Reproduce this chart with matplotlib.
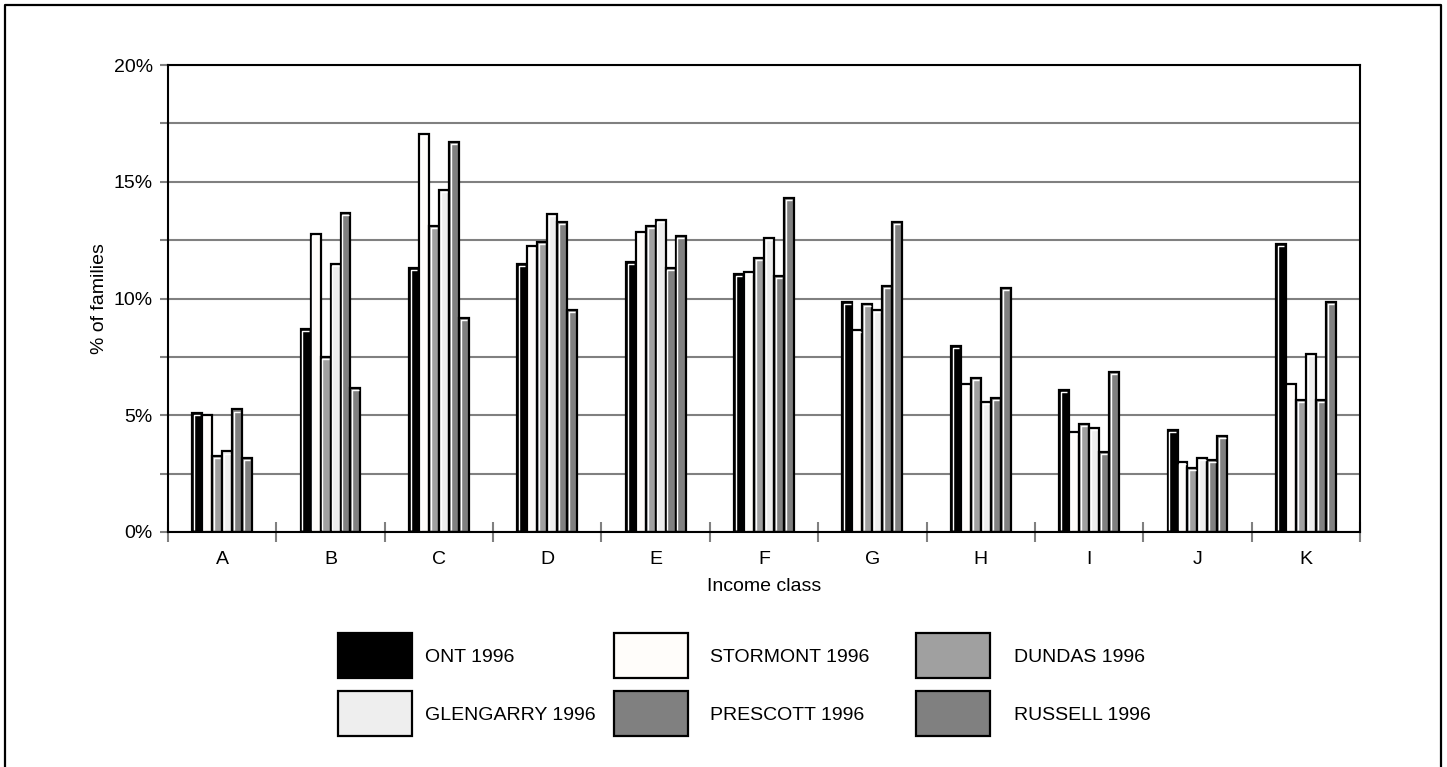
import numpy as np
import matplotlib.pyplot as plt
from matplotlib.patches import Rectangle
from matplotlib.lines import Line2D
from matplotlib.ticker import MultipleLocator, FuncFormatter

plt.rcParams['font.family'] = ['Liberation Sans', 'DejaVu Sans']

# data (percent of families by income class)
classes   = ['A', 'B', 'C', 'D', 'E', 'F', 'G', 'H', 'I', 'J', 'K']
series    = ['ONT 1996', 'STORMONT 1996', 'DUNDAS 1996',
             'GLENGARRY 1996', 'PRESCOTT 1996', 'RUSSELL 1996']
ont       = [5.08, 8.70, 11.32, 11.49, 11.58, 11.06, 9.86, 7.98, 6.09, 4.38, 12.35]
stormont  = [5.00, 12.76, 17.06, 12.26, 12.86, 11.15, 8.66, 6.35, 4.30, 3.01, 6.35]
dundas    = [3.25, 7.50, 13.12, 12.43, 13.12, 11.75, 9.78, 6.61, 4.64, 2.75, 5.67]
glengarry = [3.45, 11.48, 14.66, 13.63, 13.37, 12.60, 9.52, 5.58, 4.47, 3.18, 7.64]
prescott  = [5.25, 13.66, 16.72, 13.29, 11.32, 10.98, 10.55, 5.75, 3.44, 3.10, 5.67]
russell   = [3.18, 6.17, 9.18, 9.52, 12.69, 14.32, 13.29, 10.46, 6.87, 4.12, 9.86]

values = [ont, stormont, dundas, glengarry, prescott, russell]
colors = ['#000000', '#fffdfa', '#a0a0a0', '#eeeeee', '#808080', '#808080']
FS     = 14

fig = plt.figure(figsize=(14.47, 7.67), dpi=100)
ax  = fig.add_axes([168/1447, 1-532/767, 1192/1447, 467/767])

x     = np.arange(len(classes))
width = 0.092
for i, (vals, col) in enumerate(zip(values, colors)):
  pos  = x + (i - 2.5) * width
  bars = ax.bar(pos, vals, width, color=col, edgecolor='black', linewidth=1.6, zorder=3)
  # white bevel on left and top edge
  dx = 0.017
  dy = 0.09
  for b in bars:
    x0 = b.get_x() + dx
    h  = b.get_height() - dy
    ax.plot([x0, x0, b.get_x() + b.get_width() - dx], [0.1, h, h],
            color='white', linewidth=1.0, zorder=4, solid_capstyle='butt')

ax.set_xlim(-0.5, len(classes) - 0.5)
ax.set_ylim(0, 20)
ax.set_xticks(x)
ax.set_xticklabels(classes, fontsize=FS)
ax.set_xticks(np.arange(-0.5, len(classes)), minor=True)
ax.tick_params(axis='x', which='major', length=0, pad=14)
ax.tick_params(axis='x', which='minor', direction='inout', length=14, width=1.5, color='#808080')

ax.yaxis.set_major_locator(MultipleLocator(5))
ax.yaxis.set_minor_locator(MultipleLocator(2.5))
ax.yaxis.set_major_formatter(FuncFormatter(lambda v, p: '%d%%' % v))
ax.tick_params(axis='y', which='both', direction='out', length=6, width=1.5,
               color='#808080', labelsize=FS, pad=5)
ax.grid(axis='y', which='both', color='#808080', linewidth=1.5, zorder=0)
ax.set_axisbelow(True)
for s in ax.spines.values():
  s.set_linewidth(1.5)
  s.set_zorder(5)

ax.set_xlabel('Income class', fontsize=FS, labelpad=7)
ax.set_ylabel('% of families', fontsize=FS, labelpad=4)

# legend drawn by hand in pixel positions
W, H = 1447.0, 767.0
box_x  = [338, 614, 916]
text_x = [425, 710, 1014]
row_y  = [633, 691]
for k, (name, col) in enumerate(zip(series, colors)):
  r, c = divmod(k, 3)
  fig.patches.append(Rectangle((box_x[c]/W, 1-(row_y[r]+45)/H), 74/W, 45/H,
                               transform=fig.transFigure, facecolor=col,
                               edgecolor='black', linewidth=1.6))
  fig.text(text_x[c]/W, 1-(row_y[r]+24)/H, name, fontsize=FS, va='center', ha='left')

# outer frame (left, top, right)
fig.lines.append(Line2D([5/W, 5/W, 1441/W, 1441/W], [0, 1-5/H, 1-5/H, 0],
                        transform=fig.transFigure, color='black', linewidth=1.6))

fig.savefig('out.png', dpi=100)
